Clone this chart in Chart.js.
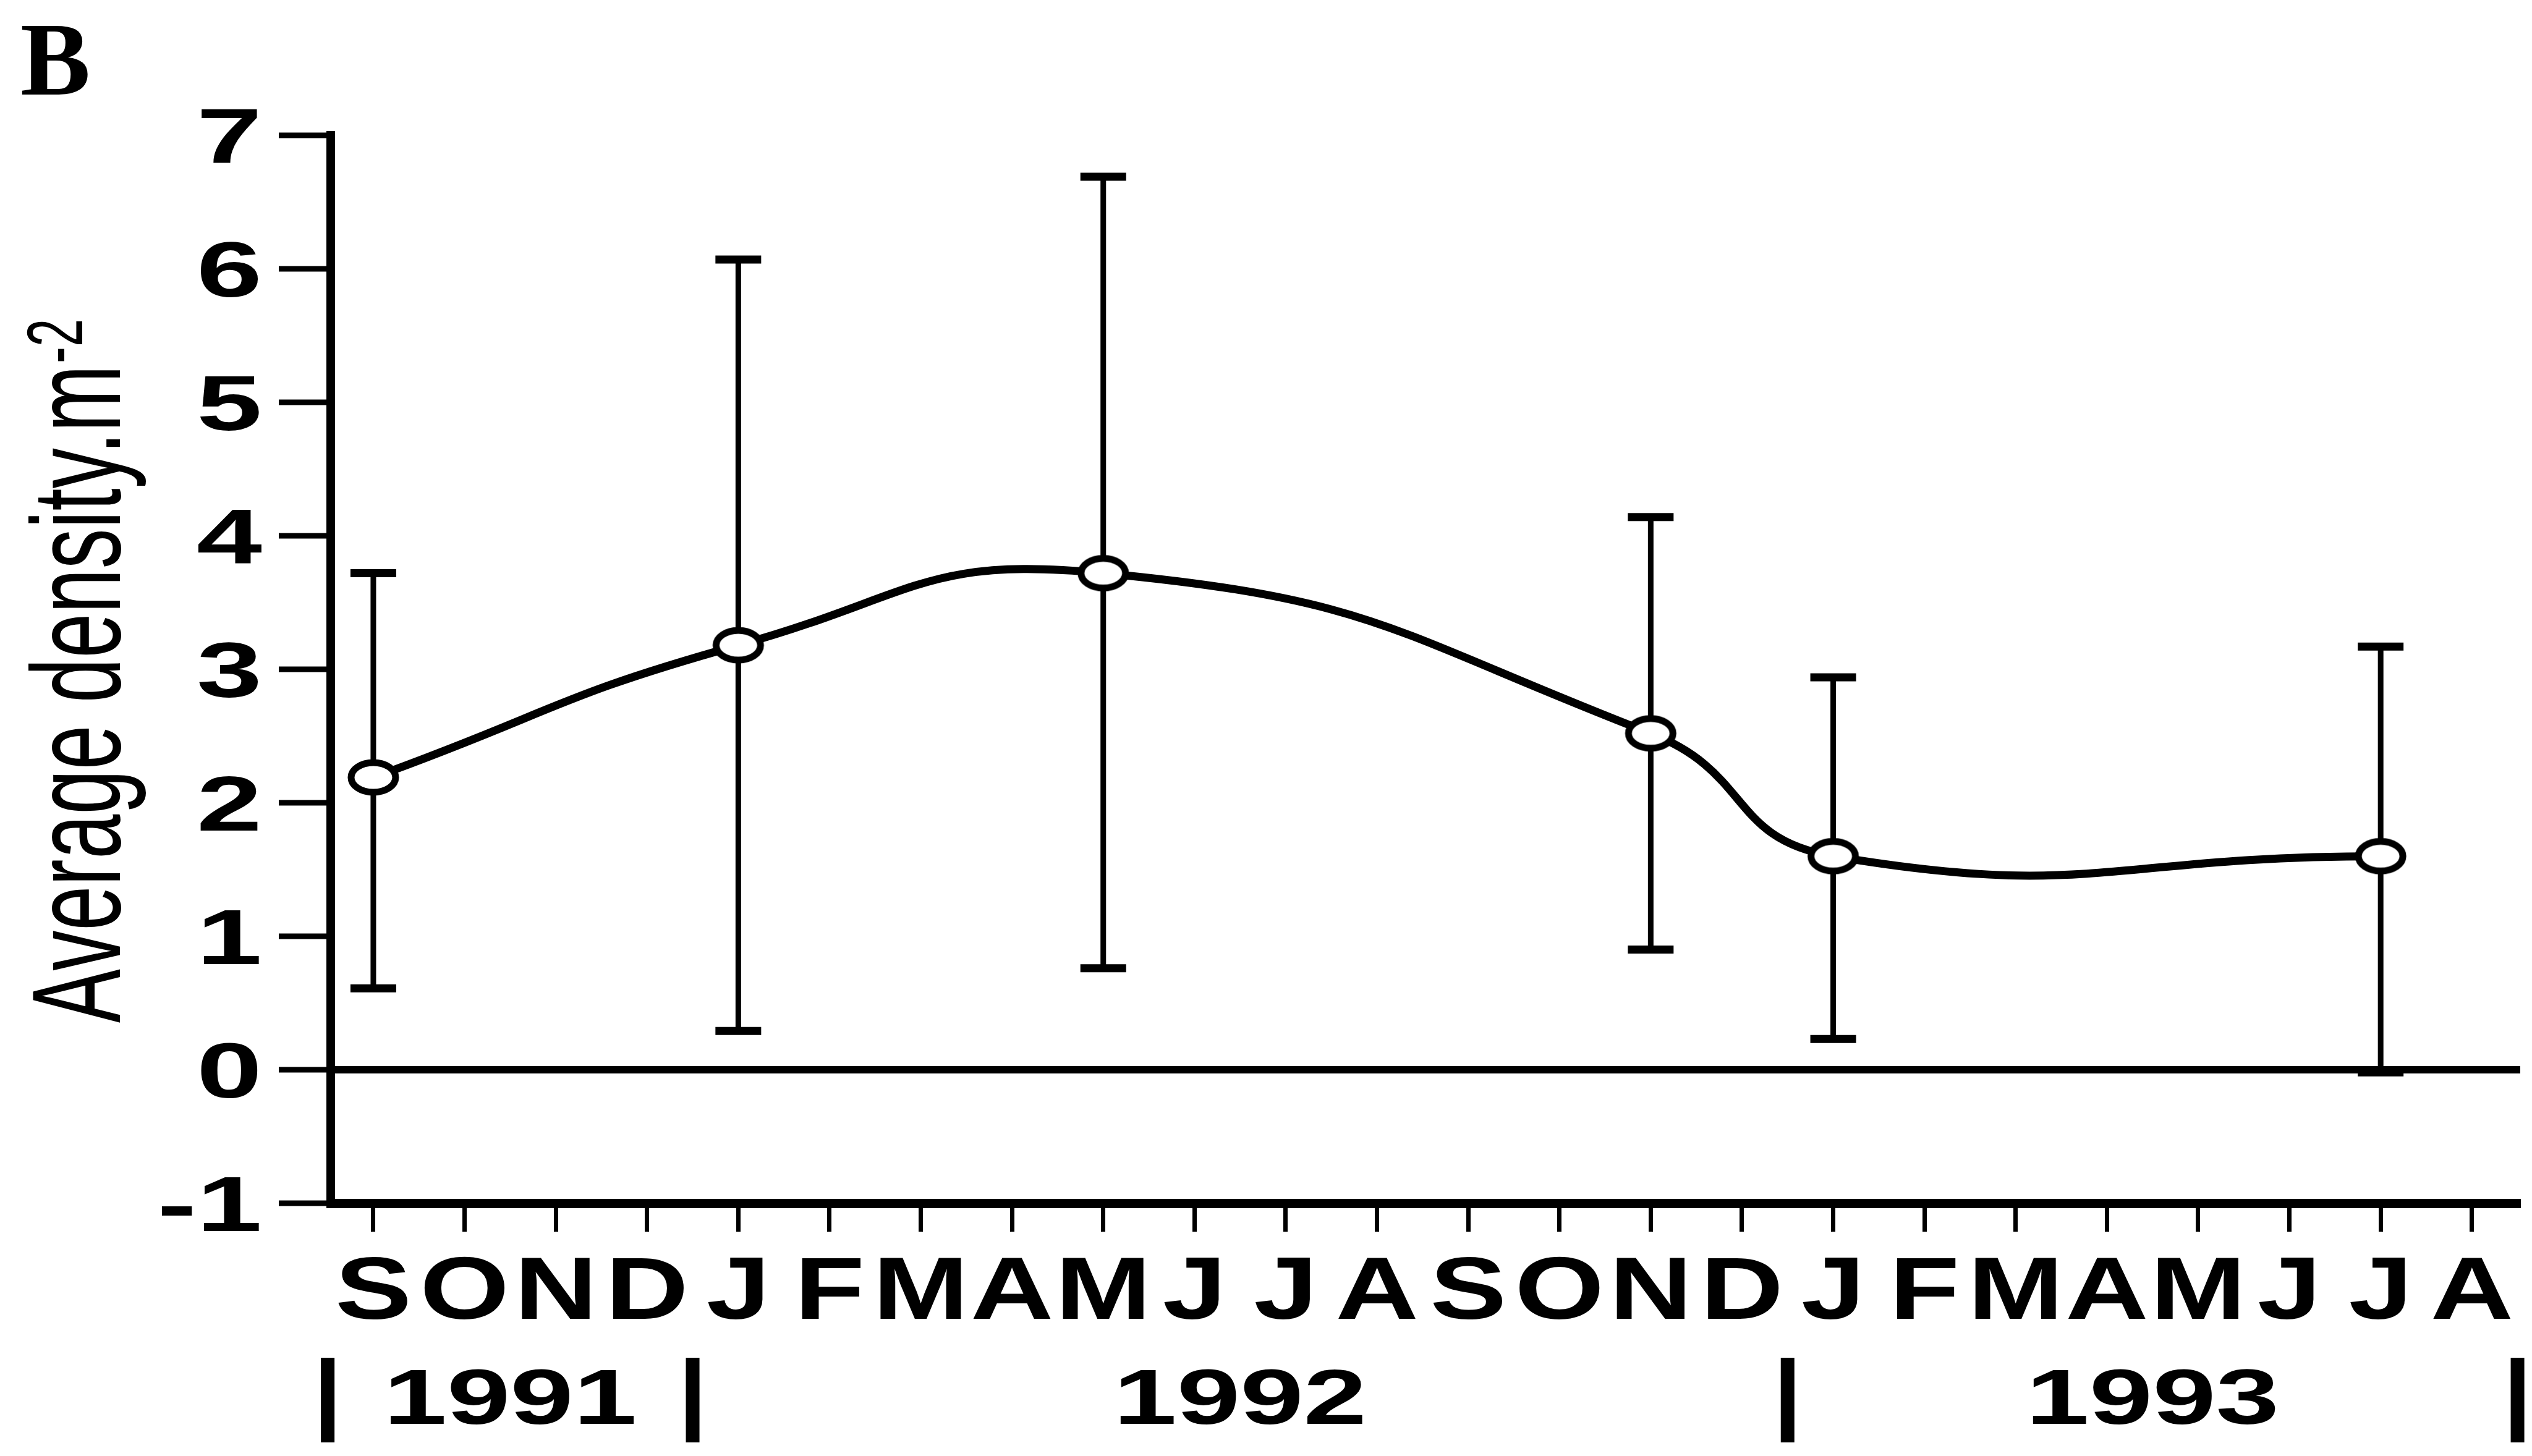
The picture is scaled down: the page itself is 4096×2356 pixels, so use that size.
<!DOCTYPE html>
<html>
<head>
<meta charset="utf-8">
<title>Average density</title>
<script src="https://cdn.jsdelivr.net/npm/chart.js@4.4.1/dist/chart.umd.min.js"></script>
<style>
    html, body { margin: 0; padding: 0; background: #fff; }
    canvas { display: block; }
</style>
</head>
<body>
<canvas id="densityChart" width="4096" height="2356"></canvas>
<script>
// Month initials, Sep 1991 -> Aug 1993 (x index 0..23)
const monthLabels = ['S', 'O', 'N', 'D', 'J', 'F', 'M', 'A', 'M', 'J', 'J', 'A',
                     'S', 'O', 'N', 'D', 'J', 'F', 'M', 'A', 'M', 'J', 'J', 'A'];
const yTickValues = [-1, 0, 1, 2, 3, 4, 5, 6, 7];

// Sampling months (index from Sep 1991) and densities
const sampleMonths = [0, 4, 8, 14, 16, 22];
const meanDensity = [2.19, 3.18, 3.72, 2.52, 1.60, 1.60];
const upperBound = [3.72, 6.07, 6.69, 4.14, 2.94, 3.17];
const lowerBound = [0.61, 0.29, 0.76, 0.90, 0.23, -0.02];

// Year row below the months
const yearLabels = ['1991', '1992', '1993'];
const yearBreaks = [-0.5, 3.5, 15.5, 23.5];

const SANS = "'Liberation Sans', Arial, sans-serif";

// open marker, a little wider than tall like the scanned one
function makeMarker() {
    const c = document.createElement('canvas');
    c.width = 90;
    c.height = 66;
    const g = c.getContext('2d');
    g.beginPath();
    g.ellipse(45, 33, 36, 24, 0, 0, Math.PI * 2);
    g.fillStyle = '#fff';
    g.fill();
    g.lineWidth = 11;
    g.strokeStyle = '#000';
    g.stroke();
    return c;
}

// draws text squeezed / widened along its own direction
function stretchedText(ctx, text, x, y, sx, align) {
    ctx.save();
    ctx.translate(x, y);
    ctx.scale(sx, 1);
    ctx.textAlign = align;
    ctx.fillText(text, 0, 0);
    ctx.restore();
}

const errorBars = {
    id: 'errorBars',
    beforeDatasetsDraw(chart) {
        const { ctx, scales: { x, y } } = chart;
        ctx.save();
        ctx.strokeStyle = '#000';
        sampleMonths.forEach((m, i) => {
            const px = x.getPixelForValue(m);
            const top = y.getPixelForValue(upperBound[i]);
            const bot = y.getPixelForValue(lowerBound[i]);
            ctx.lineWidth = 9;
            ctx.beginPath();
            ctx.moveTo(px, top);
            ctx.lineTo(px, bot);
            ctx.stroke();
            ctx.lineWidth = 13;
            [top, bot].forEach(py => {
                ctx.beginPath();
                ctx.moveTo(px - 37, py);
                ctx.lineTo(px + 37, py);
                ctx.stroke();
            });
        });
        ctx.restore();
    }
};

const textLayer = {
    id: 'textLayer',
    afterDraw(chart) {
        const { ctx, scales: { x, y } } = chart;
        ctx.save();
        ctx.fillStyle = '#000';
        ctx.textBaseline = 'alphabetic';

        // panel letter
        ctx.font = "bold 170px 'Liberation Serif', 'Times New Roman', serif";
        ctx.textAlign = 'left';
        ctx.fillText('B', 33, 153);

        // y tick labels
        ctx.font = `bold 127px ${SANS}`;
        yTickValues.forEach(v => {
            stretchedText(ctx, String(v), 424, y.getPixelForValue(v) + 45, 1.5, 'right');
        });

        // month initials under the ticks
        ctx.font = `bold 143px ${SANS}`;
        monthLabels.forEach((m, i) => {
            stretchedText(ctx, m, x.getPixelForValue(i), 2134, 1.3, 'center');
        });

        // year row with separators
        ctx.font = `bold 127px ${SANS}`;
        yearLabels.forEach((yr, i) => {
            const mid = (yearBreaks[i] + yearBreaks[i + 1]) / 2;
            stretchedText(ctx, yr, x.getPixelForValue(mid), 2304, 1.45, 'center');
        });
        ctx.strokeStyle = '#000';
        ctx.lineWidth = 22;
        yearBreaks.forEach(b => {
            const px = x.getPixelForValue(b);
            ctx.beginPath();
            ctx.moveTo(px, 2197);
            ctx.lineTo(px, 2334);
            ctx.stroke();
        });

        // rotated axis title with superscript
        ctx.translate(194, 1655);
        ctx.rotate(-Math.PI / 2);
        ctx.scale(0.634, 1);
        ctx.textAlign = 'left';
        ctx.font = `205px ${SANS}`;
        const main = 'Average density.m';
        ctx.fillText(main, 0, 0);
        const w = ctx.measureText(main).width;
        ctx.font = `128px ${SANS}`;
        ctx.fillText('-2', w + 4, -61);
        ctx.restore();
    }
};

const ctx = document.getElementById('densityChart').getContext('2d');
new Chart(ctx, {
    type: 'line',
    data: {
        datasets: [{
            data: sampleMonths.map((m, i) => ({ x: m, y: meanDensity[i] })),
            borderColor: '#000',
            borderWidth: 13,
            tension: 0.5,
            fill: false,
            pointStyle: makeMarker(),
            pointRadius: 30,
            clip: false
        }]
    },
    options: {
        responsive: false,
        devicePixelRatio: 1,
        animation: false,
        events: [],
        layout: { autoPadding: false, padding: { top: 219, right: 19, left: 0, bottom: 0 } },
        plugins: {
            legend: { display: false },
            tooltip: { enabled: false }
        },
        scales: {
            x: {
                type: 'linear',
                min: -0.467,
                max: 23.53,
                afterFit: s => { s.height = 409; },
                afterBuildTicks: s => { s.ticks = monthLabels.map((_, i) => ({ value: i })); },
                ticks: { display: false },
                grid: { drawOnChartArea: false, drawTicks: true, tickLength: 46, tickWidth: 7, tickColor: '#000' },
                border: { display: true, color: '#000', width: 15 }
            },
            y: {
                type: 'linear',
                min: -1,
                max: 7,
                afterFit: s => { s.width = 535; },
                afterBuildTicks: s => { s.ticks = yTickValues.map(v => ({ value: v })); },
                ticks: { display: false },
                grid: {
                    drawOnChartArea: true,
                    color: '#000',
                    lineWidth: c => (c.tick && c.tick.value === 0 ? 12 : 0),
                    drawTicks: true,
                    tickLength: 84,
                    tickWidth: 9,
                    tickColor: '#000'
                },
                border: { display: true, color: '#000', width: 14 }
            }
        }
    },
    plugins: [errorBars, textLayer]
});
</script>
</body>
</html>
